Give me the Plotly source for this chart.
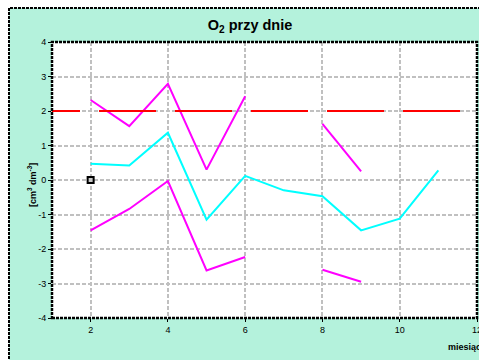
import plotly.graph_objects as go

months = [2, 3, 4, 5, 6, 7, 8, 9, 10, 11]
upper = [2.32, 1.56, 2.79, 0.30, 2.43, None, 1.63, 0.25, None, None]
mean = [0.47, 0.42, 1.37, -1.15, 0.12, -0.30, -0.47, -1.46, -1.12, 0.28]
lower = [-1.46, -0.84, -0.03, -2.62, -2.23, None, -2.60, -2.95, None, None]
ref_x = [1, 12]
ref_y = [2, 2]
pt_x = [2]
pt_y = [0]
x_ticks = [2, 4, 6, 8, 10, 12]
y_ticks = [-4, -3, -2, -1, 0, 1, 2, 3, 4]

MINT = "#b4f2dc"
FONT = "Liberation Sans, Arial, sans-serif"

fig = go.Figure()
fig.add_trace(go.Scatter(x=months, y=upper, mode="lines",
                         line=dict(color="#ff00ff", width=2), showlegend=False))
fig.add_trace(go.Scatter(x=months, y=mean, mode="lines",
                         line=dict(color="#00ffff", width=2), showlegend=False))
fig.add_trace(go.Scatter(x=months, y=lower, mode="lines",
                         line=dict(color="#ff00ff", width=2), showlegend=False))
fig.add_trace(go.Scatter(x=ref_x, y=ref_y, mode="lines",
                         line=dict(color="#ff0000", width=2,
                                   dash="28px,19px,57px,19px,57px,19px,57px,19px,57px,19px,57px,19px,57px,40px"),
                         showlegend=False))
fig.add_trace(go.Scatter(x=pt_x, y=pt_y, mode="markers",
                         marker=dict(symbol="square", size=6, color="#c8c8c8",
                                     line=dict(color="black", width=2)),
                         showlegend=False))

W, H = 479, 360
L, R, T, B = 52, 2, 42, 42
pw, ph = W - L - R, H - T - B

def px(xp):
    return (xp - L) / pw

def py(yp):
    return (H - B - yp) / ph

shapes = [
    dict(type="rect", xref="paper", yref="paper", x0=px(9), x1=px(490), y0=py(370), y1=py(8),
         fillcolor=MINT, line=dict(color="black", width=2, dash="3px,1px"), layer="below"),
    dict(type="rect", xref="paper", yref="paper", x0=0, x1=1, y0=0, y1=1,
         fillcolor="white", line=dict(width=0), layer="below"),
    dict(type="rect", xref="paper", yref="paper", x0=0, x1=1, y0=0, y1=1,
         line=dict(color="black", width=2.5, dash="3px,1px"), layer="above"),
]

fig.update_layout(
    width=W, height=H,
    margin=dict(l=L, r=R, t=T, b=B, autoexpand=False),
    paper_bgcolor="white",
    plot_bgcolor="rgba(0,0,0,0)",
    font=dict(family=FONT, size=9, color="black"),
    shapes=shapes,
    title=dict(text="<b>O<sub>2</sub> przy dnie</b>", x=250 / W, xanchor="center",
               y=1 - 25 / H, yanchor="middle", font=dict(size=14.5, family=FONT)),
    xaxis=dict(range=[1, 12], tickvals=x_ticks, ticktext=[str(v) for v in x_ticks],
               showgrid=True, gridcolor="#c0c0c0", griddash="4px,2px", gridwidth=1.5,
               zeroline=False, showline=False, ticks="outside", ticklen=3, automargin=False,
               tickcolor="black", tickfont=dict(size=9), ticklabeloverflow="allow"),
    yaxis=dict(range=[-4, 4], tickvals=y_ticks, ticktext=[str(v) for v in y_ticks],
               showgrid=True, gridcolor="#c0c0c0", griddash="4px,2px", gridwidth=1.5,
               zeroline=False, showline=False, ticks="outside", ticklen=3, automargin=False,
               tickcolor="black", tickfont=dict(size=9)),
    annotations=[
        dict(text="<b>[cm<sup>3</sup> dm<sup>-3</sup>]</b>", xref="paper", yref="paper",
             x=px(32), y=py(185), textangle=-90, showarrow=False,
             font=dict(size=9, family=FONT), xanchor="center", yanchor="middle"),
        dict(text="<b>miesiąc</b>", xref="paper", yref="paper",
             x=px(446), y=py(347), showarrow=False, xanchor="left", yanchor="middle",
             font=dict(size=9, family=FONT)),
    ],
)

fig.write_html("out.html")
